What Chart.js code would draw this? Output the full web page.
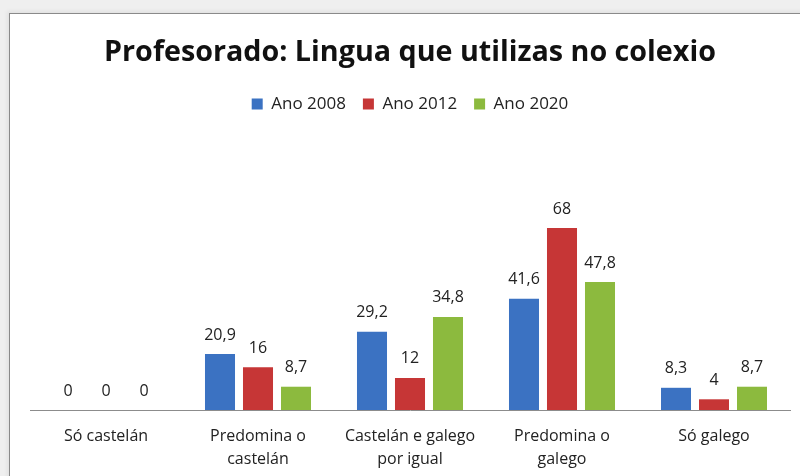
<!DOCTYPE html>
<html>
<head>
<meta charset="utf-8">
<script src="https://cdn.jsdelivr.net/npm/chart.js@4.4.1/dist/chart.umd.min.js"></script>
<style>
  html, body { margin: 0; padding: 0; width: 800px; height: 476px; overflow: hidden; background: #efefef; }
  #frame { position: absolute; left: 9px; top: 13px; width: 820px; height: 480px; background: #fff; border: 1px solid #8a8a8a; box-shadow: -2px -2px 4px rgba(0,0,0,0.06); }
  #grafico { position: absolute; left: 0; top: 0; }
</style>
</head>
<body>
<div id="frame"></div>
<canvas id="grafico" width="800" height="490"></canvas>
<script>
// Datos
const categorias = [['Só castelán'], ['Predomina o', 'castelán'], ['Castelán e galego', 'por igual'], ['Predomina o', 'galego'], ['Só galego']];
const ano2008 = [0, 20.9, 29.2, 41.6, 8.3];
const ano2012 = [0, 16, 12, 68, 4];
const ano2020 = [0, 8.7, 34.8, 47.8, 8.7];
const series = ['Ano 2008', 'Ano 2012', 'Ano 2020'];
const cores = ['#3b72c2', '#c63636', '#8cba3e'];

// Etiquetas de valor enriba das barras
const etiquetas = {
    id: 'etiquetas',
    afterDatasetsDraw(chart) {
        const ctx = chart.ctx;
        ctx.save();
        ctx.font = '16px "Open Sans"';
        ctx.fillStyle = '#222';
        ctx.textAlign = 'center';
        ctx.textBaseline = 'middle';
        chart.data.datasets.forEach((ds, i) => {
            chart.getDatasetMeta(i).data.forEach((bar, j) => {
                ctx.fillText(String(ds.data[j]).replace('.', ','), bar.x, bar.y - 19);
            });
        });
        ctx.restore();
    }
};

const ctx = document.getElementById('grafico').getContext('2d');
const grafico = new Chart(ctx, {
    type: 'bar',
    data: {
        labels: categorias,
        datasets: [
            { label: series[0], data: ano2008, backgroundColor: cores[0] },
            { label: series[1], data: ano2012, backgroundColor: cores[1] },
            { label: series[2], data: ano2020, backgroundColor: cores[2] }
        ]
    },
    options: {
        responsive: false,
        animation: false,
        categoryPercentage: 0.75,
        barPercentage: 0.79,
        layout: { padding: { top: 0, left: 30, right: 10, bottom: 3.6 } },
        scales: {
            x: {
                grid: { display: false, drawTicks: false },
                border: { display: true, color: '#8c8c8c', width: 1 },
                ticks: {
                    color: '#222',
                    padding: 15,
                    maxRotation: 0,
                    autoSkip: false,
                    font: { family: '"Open Sans"', size: 16, lineHeight: 1.45 }
                }
            },
            y: {
                display: false,
                min: 0,
                max: 80
            }
        },
        plugins: {
            title: {
                display: true,
                text: 'Profesorado: Lingua que utilizas no colexio',
                color: '#111',
                font: { family: '"Open Sans"', size: 28.7, weight: 'bold', lineHeight: 1.2 },
                padding: { top: 36, bottom: 8 }
            },
            legend: {
                display: true,
                position: 'top',
                labels: {
                    color: '#222',
                    boxWidth: 11,
                    boxHeight: 11,
                    padding: 17,
                    font: { family: '"Open Sans"', size: 17 }
                }
            },
            subtitle: {
                display: true,
                text: ' ',
                weight: 500,
                font: { size: 10, lineHeight: 1 },
                padding: { top: 63.5, bottom: 0 }
            },
            tooltip: { enabled: false }
        }
    },
    plugins: [etiquetas]
});
</script>
</body>
</html>
